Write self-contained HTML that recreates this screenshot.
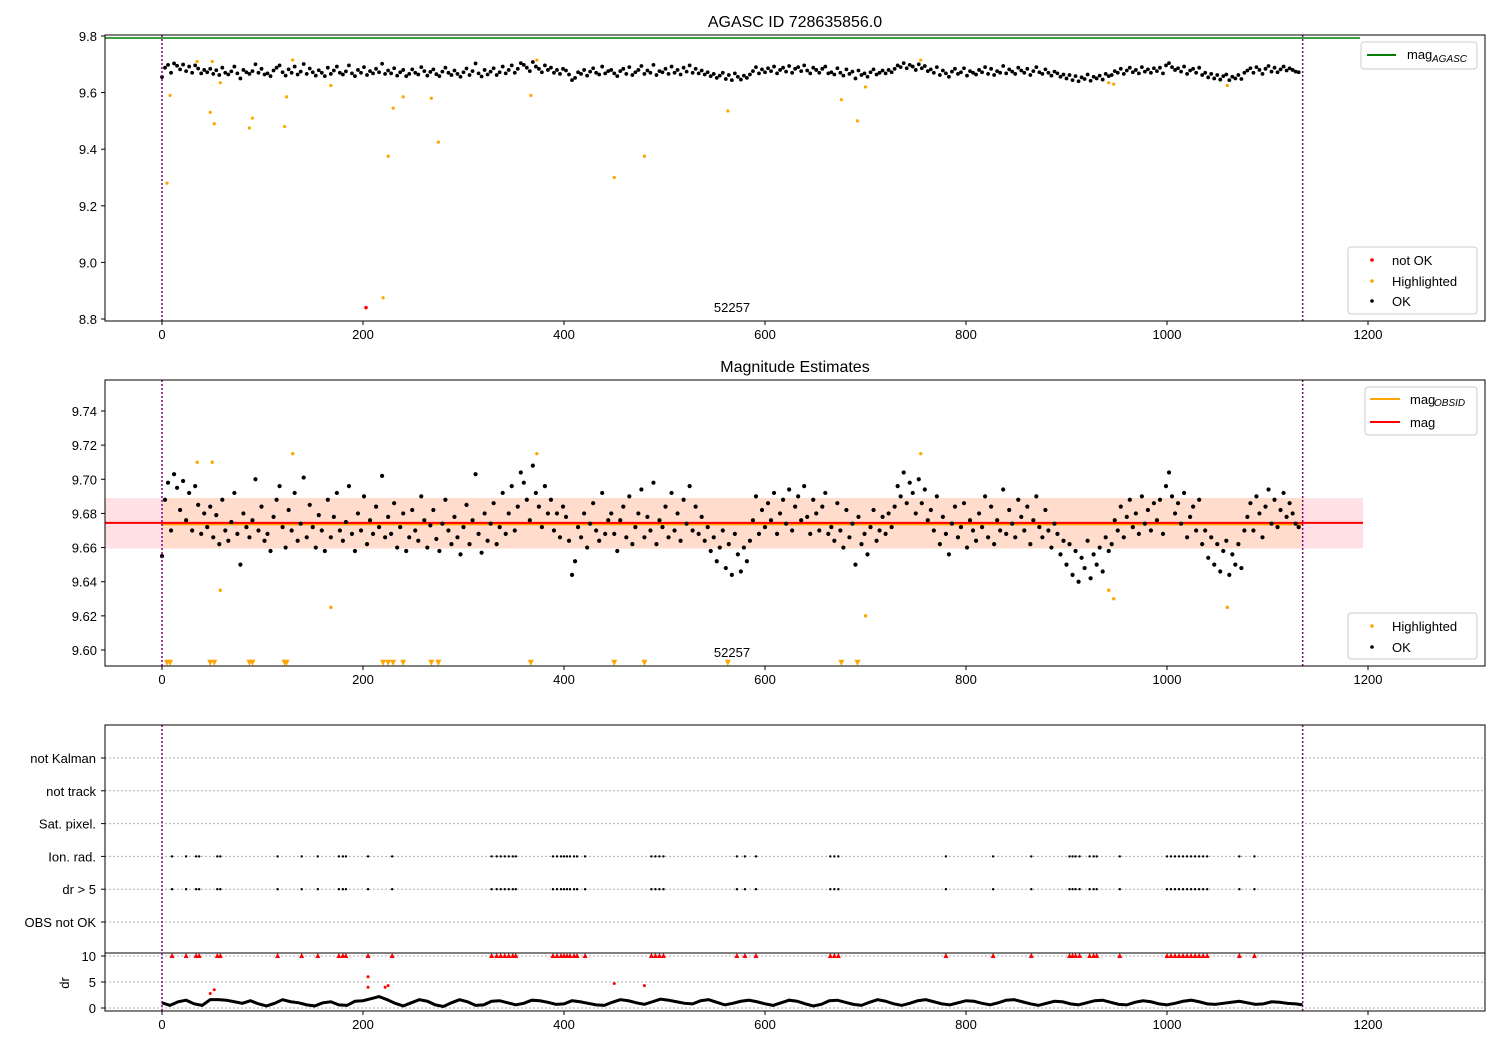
<!DOCTYPE html>
<html><head><meta charset="utf-8"><style>
body{margin:0;background:#fff}
svg{font-family:"Liberation Sans","DejaVu Sans",sans-serif}
</style></head><body>
<svg id="fig" width="1500" height="1050" viewBox="0 0 1500 1050" xmlns="http://www.w3.org/2000/svg"></svg>
<script>
// ---- data ----
const okStep = 3;
const okMag = [55,88,98,70,103,95,82,99,76,92,70,96,85,68,80,
72,84,66,79,62,88,70,64,75,92,68,50,80,72,66,
76,100,70,84,64,68,58,78,88,96,72,60,82,70,92,
64,74,101,66,85,72,60,79,70,58,88,66,78,92,70,
64,75,96,68,58,80,70,90,62,76,68,84,72,102,66,
78,68,86,60,72,80,58,66,82,70,64,90,76,60,73,
82,65,58,74,88,70,62,78,66,56,72,85,62,76,103,
68,57,80,64,74,86,62,72,92,68,80,96,70,84,104,
98,88,76,108,92,84,72,96,80,88,70,80,66,84,78,
64,44,52,72,66,80,60,74,86,70,64,92,68,76,80,
68,58,76,84,66,90,62,72,80,94,66,78,70,98,62,
76,72,84,66,92,70,80,64,88,74,96,70,84,68,78,
64,72,58,66,52,60,70,48,62,44,68,56,46,60,52,
64,76,90,68,82,72,86,76,92,68,80,88,74,94,70,
84,90,76,96,78,68,88,80,70,84,92,68,72,64,86,
70,60,82,66,74,50,78,62,68,56,72,82,64,70,78,
68,80,72,84,96,90,104,86,98,92,80,100,86,94,76,
82,70,90,62,78,68,56,74,84,66,72,86,60,76,70,
64,80,72,90,66,84,62,76,70,94,68,82,74,66,88,
78,70,84,62,76,90,72,66,82,70,60,74,68,56,64,
50,62,44,58,40,54,48,64,42,56,50,60,46,66,58,
62,76,70,84,66,78,88,72,80,68,90,74,82,70,86,
76,88,68,96,104,90,80,86,74,92,66,78,84,70,88,
62,70,54,66,50,62,46,58,64,44,56,50,62,48,70,
78,86,70,90,80,66,84,94,74,88,72,82,92,78,86,
80,74,72];
const hlX = [5,8,35,48,50,52,58,87,90,122,124,130,168,220,225,230,240,268,275,367,373,450,480,563,676,692,700,755,942,947,1060];
const hlMag = [9.28,9.59,9.71,9.53,9.71,9.49,9.635,9.475,9.51,9.48,9.585,9.715,9.625,8.875,9.375,9.545,9.585,9.58,9.425,9.59,9.715,9.30,9.375,9.535,9.575,9.50,9.62,9.715,9.635,9.63,9.625];
const notOkX = [203];
const notOkMag = [8.84];
const flagX = [10,24,34,37,55,58,115,139,155,176,180,183,205,229,328,333,337,341,345,349,352,389,393,397,400,403,406,410,413,421,487,491,495,499,572,580,591,665,669,673,780,827,865,903,906,909,913,923,927,930,953,1000,1004,1008,1012,1016,1020,1024,1028,1032,1036,1040,1072,1087];
const drStep = 8;
const drVals = [1.0,0.5,1.2,1.5,0.8,0.5,1.6,1.6,1.5,1.2,0.9,1.4,0.8,0.4,0.9,1.6,1.2,1.0,0.6,0.4,1.0,1.2,0.6,0.5,1.3,1.4,1.8,2.2,1.6,0.9,0.4,1.0,1.6,1.3,0.6,0.3,1.0,1.6,1.2,0.5,0.6,1.3,1.4,1.0,0.6,0.9,1.5,1.4,1.1,0.7,0.8,1.4,1.2,0.9,0.6,0.5,1.1,1.6,1.4,1.0,0.7,1.2,1.7,1.5,1.2,0.9,0.8,1.4,1.6,1.1,0.6,0.9,1.3,1.5,1.2,0.8,0.5,1.0,1.5,1.3,0.8,0.4,0.7,1.4,1.5,1.1,0.7,0.5,1.1,1.6,1.3,0.8,0.5,0.9,1.4,1.6,1.2,0.8,0.6,1.0,1.4,1.3,0.9,0.6,1.0,1.5,1.6,1.2,0.8,0.5,0.9,1.3,1.2,0.8,0.6,1.0,1.4,1.5,1.1,0.7,0.6,1.1,1.4,1.2,0.8,0.6,0.9,1.3,1.5,1.2,0.8,0.7,0.9,1.1,1.3,1.0,0.7,0.8,1.2,1.1,0.9,0.8,0.6];
const drBadX = [48,52,205,205,222,225,450,480];
const drBadVal = [2.8,3.5,6.0,4.0,4.0,4.3,4.7,4.3];
const xTicks = [0,200,400,600,800,1000,1200];
const p1Ticks = [8.8,9.0,9.2,9.4,9.6,9.8];
const p2Ticks = [9.60,9.62,9.64,9.66,9.68,9.70,9.72,9.74];
const flagRows = ["OBS not OK","dr > 5","Ion. rad.","Sat. pixel.","not track","not Kalman"];
const drTicks = [0,5,10];
const magAgasc = 9.793, magMean = 9.6745, magLo = 9.6595, magHi = 9.689;

// ---- scales ----
const X = v => 162 + v*1.005;
const Y1 = v => 36 + (9.8 - v)*283;
const Y2 = v => 411 + (9.74 - v)*1707.1;
const Y3 = i => 922 - i*32.8;
const YD = v => 1008 - v*5.2;
const svg = document.getElementById('fig');
const NS = 'http://www.w3.org/2000/svg';
function mk(tag, attrs, parent){const e=document.createElementNS(NS,tag);for(const k in attrs)e.setAttribute(k,attrs[k]);(parent||svg).appendChild(e);return e;}
function txt(s, attrs, parent){const e=mk('text',attrs,parent);e.textContent=s;return e;}

const panels=[{t:35,b:321},{t:380,b:666},{t:725,b:1011}];
panels.forEach((p,pi)=>{
  xTicks.forEach(v=>{
    const l=mk('line',{x1:X(v),x2:X(v),y1:p.b,y2:p.b+4,stroke:'#000'});
    
    
    const t=txt(String(v),{x:X(v),y:p.b+18,'text-anchor':'middle','font-size':13});
    
    
  });
});

// ---- panel 1 ----
const g1=mk('g',{});


txt('AGASC ID 728635856.0',{x:795,y:27,'text-anchor':'middle','font-size':16},g1);
p1Ticks.forEach(v=>{
  mk('line',{x1:101,x2:105,y1:Y1(v),y2:Y1(v),stroke:'#000'},g1);
  const t=txt(v.toFixed(1),{x:97,y:Y1(v)+5,'text-anchor':'end','font-size':13},g1);
  
});
mk('line',{x1:105,x2:1360,y1:Y1(magAgasc),y2:Y1(magAgasc),stroke:'#008000','stroke-width':1.5},g1);
okMag.forEach((m,i)=>{const c=mk('circle',{cx:X(i*okStep),cy:Y1(9.6+m/1000),r:1.9,fill:'#000'},g1);});
hlX.forEach((x,i)=>{const c=mk('circle',{cx:X(x),cy:Y1(hlMag[i]),r:1.6,fill:'#ffa500'},g1);});
notOkX.forEach((x,i)=>{const c=mk('circle',{cx:X(x),cy:Y1(notOkMag[i]),r:1.8,fill:'#f00'},g1);});
txt('52257',{x:732,y:312,'text-anchor':'middle','font-size':13},g1);

// ---- panel 2 ----
const g2=mk('g',{});


txt('Magnitude Estimates',{x:795,y:372,'text-anchor':'middle','font-size':16},g2);
p2Ticks.forEach(v=>{
  mk('line',{x1:101,x2:105,y1:Y2(v),y2:Y2(v),stroke:'#000'},g2);
  const t=txt(v.toFixed(2),{x:97,y:Y2(v)+5,'text-anchor':'end','font-size':13},g2);
  
});
mk('rect',{x:105,y:Y2(magHi),width:X(1195)-105,height:Y2(magLo)-Y2(magHi),fill:'#ffe0e4'},g2);
mk('rect',{x:X(0),y:Y2(magHi),width:X(1135)-X(0),height:Y2(magLo)-Y2(magHi),fill:'#ffdccb'},g2);
mk('line',{x1:X(0),x2:X(1135),y1:Y2(magMean)+1.5,y2:Y2(magMean)+1.5,stroke:'#ffa500','stroke-width':2},g2);
mk('line',{x1:105,x2:X(1195),y1:Y2(magMean),y2:Y2(magMean),stroke:'#f00','stroke-width':2},g2);
okMag.forEach((m,i)=>{const c=mk('circle',{cx:X(i*okStep),cy:Y2(9.6+m/1000),r:2.1,fill:'#000'},g2);});
hlX.forEach((x,i)=>{
  const v=hlMag[i];
  if(v>=9.5906){const c=mk('circle',{cx:X(x),cy:Y2(v),r:1.7,fill:'#ffa500'},g2);}
  else{const cx=X(x),cy=Y2(9.5925);const p=mk('polygon',{points:`${cx-3},${cy-3} ${cx+3},${cy-3} ${cx},${cy+3}`,fill:'#ffa500'},g2);}
});
txt('52257',{x:732,y:657,'text-anchor':'middle','font-size':13},g2);

// ---- panel 3 ----
const g3=mk('g',{});


flagRows.forEach((r,i)=>{
  mk('line',{x1:105,x2:1485,y1:Y3(i),y2:Y3(i),stroke:'#b0b0b0','stroke-dasharray':'2,2'},g3);
  mk('line',{x1:101,x2:105,y1:Y3(i),y2:Y3(i),stroke:'#000'},g3);
  txt(r,{x:96,y:Y3(i)+5,'text-anchor':'end','font-size':13},g3);
});
flagX.forEach(x=>{
  [1,2].forEach(row=>{const c=mk('circle',{cx:X(x),cy:Y3(row),r:1.2,fill:'#000'},g3);});
});
drTicks.forEach(v=>{
  mk('line',{x1:105,x2:1485,y1:YD(v),y2:YD(v),stroke:'#b0b0b0','stroke-dasharray':'2,2'},g3);
  mk('line',{x1:101,x2:105,y1:YD(v),y2:YD(v),stroke:'#000'},g3);
  txt(String(v),{x:96,y:YD(v)+5,'text-anchor':'end','font-size':13},g3);
});
txt('dr',{x:0,y:0,'font-size':13,'text-anchor':'middle',transform:'translate(69,983) rotate(-90)'},g3);
mk('polyline',{points:drVals.map((v,i)=>X(Math.min(i*drStep,1135))+','+YD(v)).join(' '),fill:'none',stroke:'#000','stroke-width':3},g3);
flagX.forEach(x=>{const cx=X(x),cy=YD(10);const p=mk('polygon',{points:`${cx-2.5},${cy+2} ${cx+2.5},${cy+2} ${cx},${cy-3}`,fill:'#f00'},g3);});
drBadX.forEach((x,i)=>{const c=mk('circle',{cx:X(x),cy:YD(drBadVal[i]),r:1.5,fill:'#f00'},g3);});
mk('line',{x1:105,x2:1485,y1:953,y2:953,stroke:'#000'},g3);

panels.forEach(p=>{
  [0,1135].forEach(v=>{const l=mk('line',{x1:X(v),x2:X(v),y1:p.t,y2:p.b,stroke:'#800080','stroke-width':1.5,'stroke-dasharray':'2,2'});});
  const r=mk('rect',{x:105,y:p.t,width:1380,height:p.b-p.t,fill:'none',stroke:'#000'});
  
  
});

function legendBox(x,y,w,h,name){const r=mk('rect',{x:x,y:y,width:w,height:h,rx:3,fill:'#fff','fill-opacity':0.85,stroke:'#ccc'});}
legendBox(1361,42,116,27,'legend-agasc');
mk('line',{x1:1367,x2:1396,y1:55,y2:55,stroke:'#008000','stroke-width':2});
const la=txt('mag',{x:1407,y:59,'font-size':13});
txt('AGASC',{x:1432,y:62,'font-size':10,'font-style':'italic'});
legendBox(1348,247,129,67,'legend-status');
[['not OK','#f00',260],['Highlighted','#ffa500',281],['OK','#000',301]].forEach(([s,c,y])=>{
  mk('circle',{cx:1372,cy:y,r:1.8,fill:c});
  const t=txt(s,{x:1392,y:y+5,'font-size':13});
});
legendBox(1365,387,112,48,'legend-mag');
mk('line',{x1:1370,x2:1400,y1:399,y2:399,stroke:'#ffa500','stroke-width':2});
txt('mag',{x:1410,y:404,'font-size':13});
txt('OBSID',{x:1434,y:406,'font-size':10,'font-style':'italic'});
mk('line',{x1:1370,x2:1400,y1:422,y2:422,stroke:'#f00','stroke-width':2});
txt('mag',{x:1410,y:427,'font-size':13});
legendBox(1348,613,129,46,'legend-status-2');
[['Highlighted','#ffa500',626],['OK','#000',647]].forEach(([s,c,y])=>{
  mk('circle',{cx:1372,cy:y,r:1.8,fill:c});
  const t=txt(s,{x:1392,y:y+5,'font-size':13});
});
</script>
</body></html>
